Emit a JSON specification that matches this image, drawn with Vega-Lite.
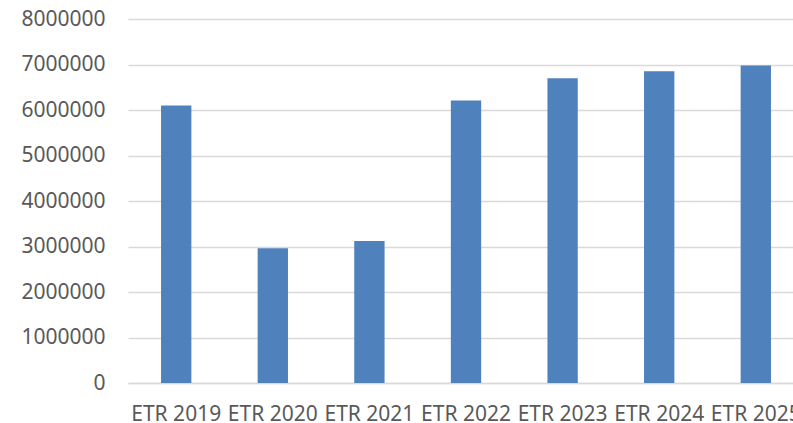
{
  "$schema": "https://vega.github.io/schema/vega-lite/v6.json",
  "width": 665,
  "height": 364,
  "autosize": {"type": "none"},
  "padding": {"left": 128, "top": 19, "right": 0, "bottom": 40},
  "background": "white",
  "config": {"view": {"stroke": null}},
  "data": {
    "values": [
      {"year": "ETR 2019", "value": 6100000},
      {"year": "ETR 2020", "value": 2960000},
      {"year": "ETR 2021", "value": 3120000},
      {"year": "ETR 2022", "value": 6210000},
      {"year": "ETR 2023", "value": 6700000},
      {"year": "ETR 2024", "value": 6850000},
      {"year": "ETR 2025", "value": 6980000}
    ]
  },
  "mark": {"type": "bar", "color": "#4f81bd"},
  "encoding": {
    "x": {
      "field": "year",
      "type": "nominal",
      "sort": null,
      "scale": {"paddingInner": 0.686, "paddingOuter": 0.285, "align": 0.6},
      "axis": {
        "title": null,
        "labelAngle": 0,
        "labelFont": "Noto Sans",
        "labelFontSize": 21,
        "labelColor": "#595959",
        "labelPadding": 20,
        "labelOverlap": false,
        "labelBound": false,
        "ticks": false,
        "domainColor": "#d9d9d9",
        "domainWidth": 1.5,
        "grid": false
      }
    },
    "y": {
      "field": "value",
      "type": "quantitative",
      "scale": {"domain": [0, 8000000], "nice": false},
      "axis": {
        "title": null,
        "values": [0, 1000000, 2000000, 3000000, 4000000, 5000000, 6000000, 7000000, 8000000],
        "format": "d",
        "labelFont": "Noto Sans",
        "labelFontSize": 21,
        "labelColor": "#595959",
        "labelPadding": 23,
        "ticks": false,
        "domain": false,
        "grid": true,
        "gridColor": "#d9d9d9",
        "gridWidth": 1.5
      }
    }
  }
}
